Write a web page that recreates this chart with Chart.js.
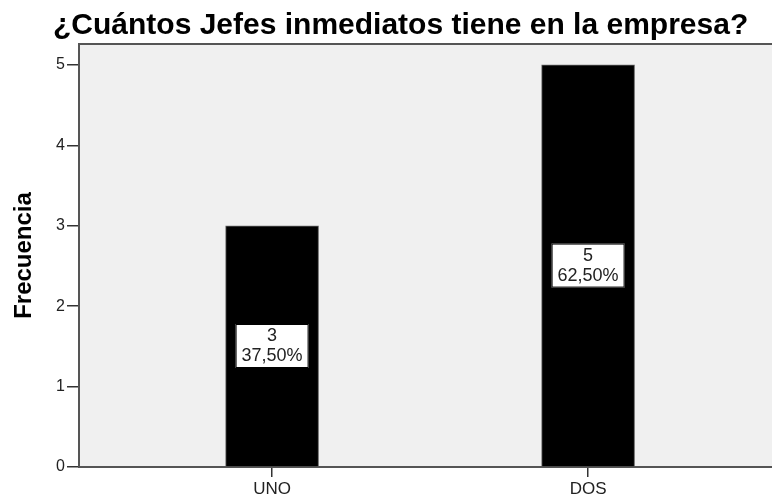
<!DOCTYPE html>
<html lang="es">
<head>
<meta charset="UTF-8">
<title>¿Cuántos Jefes inmediatos tiene en la empresa?</title>
<script src="https://cdn.jsdelivr.net/npm/chart.js"></script>
<style>
  body { margin: 0; background: #fff; overflow: hidden; }
  #wrap { width: 772px; height: 499px; }
</style>
</head>
<body>
<div id="wrap"><canvas id="chart" width="772" height="499"></canvas></div>
<script>
// data
const categories = ['UNO', 'DOS'];
const frequencies = [3, 5];
const percentLabels = ['37,50%', '62,50%'];
const yTicks = [0, 1, 2, 3, 4, 5];
const chartTitle = '¿Cuántos Jefes inmediatos tiene en la empresa?';

const FONT = "'Liberation Sans', Arial, sans-serif";

// grey plot box behind the bars
const plotBox = {
    id: 'plotBox',
    beforeDraw(chart) {
        const { ctx, chartArea: a } = chart;
        ctx.save();
        ctx.fillStyle = '#f0f0f0';
        ctx.fillRect(a.left, a.top, a.right - a.left, a.bottom - a.top);
        ctx.strokeStyle = '#555';
        ctx.lineWidth = 2;
        ctx.beginPath();
        ctx.moveTo(a.left, a.top);
        ctx.lineTo(a.right, a.top);
        ctx.stroke();
        ctx.restore();
    }
};

// white boxes with count and percentage in the middle of each bar
const barLabels = {
    id: 'barLabels',
    afterDatasetsDraw(chart) {
        const { ctx } = chart;
        const meta = chart.getDatasetMeta(0);
        ctx.save();
        ctx.font = '18px ' + FONT;
        ctx.textAlign = 'center';
        ctx.textBaseline = 'middle';
        meta.data.forEach((bar, i) => {
            const mid = (bar.y + bar.base) / 2;
            const w = 73, h = 44;
            ctx.fillStyle = '#fff';
            ctx.fillRect(bar.x - w / 2, mid - h / 2, w, h);
            ctx.strokeStyle = '#000';
            ctx.lineWidth = 1;
            ctx.strokeRect(bar.x - w / 2 + 0.5, mid - h / 2 + 0.5, w - 1, h - 1);
            ctx.fillStyle = '#222';
            ctx.fillText(String(frequencies[i]), bar.x, mid - 10);
            ctx.fillText(percentLabels[i], bar.x, mid + 10);
        });
        ctx.restore();
    }
};

const titleText = {
    id: 'titleText',
    afterDraw(chart) {
        const { ctx } = chart;
        ctx.save();
        ctx.font = 'bold 30px ' + FONT;
        ctx.fillStyle = '#000';
        ctx.textAlign = 'left';
        ctx.textBaseline = 'alphabetic';
        ctx.fillText(chartTitle, 53, 34);
        ctx.restore();
    }
};

new Chart(document.getElementById('chart').getContext('2d'), {
    type: 'bar',
    data: {
        datasets: [{
            label: 'Frecuencia',
            data: categories.map((c, i) => ({ x: i, y: frequencies[i] })),
            backgroundColor: '#000',
            borderColor: '#666',
            borderWidth: 1,
            barThickness: 93
        }]
    },
    options: {
        responsive: false,
        animation: false,
        devicePixelRatio: 1,
        layout: { padding: { top: 44, left: 0, right: 0, bottom: 0 } },
        plugins: {
            legend: { display: false },
            tooltip: { enabled: false }
        },
        scales: {
            x: {
                type: 'linear',
                offset: false,
                min: -0.611,
                max: 1.582,
                afterBuildTicks(axis) {
                    axis.ticks = categories.map((c, i) => ({ value: i }));
                },
                afterFit(axis) { axis.height = 32; },
                ticks: {
                    callback: v => categories[v],
                    font: { family: FONT, size: 17 },
                    color: '#222',
                    padding: 2,
                    maxRotation: 0
                },
                grid: { offset: false, drawOnChartArea: false, tickLength: 10, color: '#333', lineWidth: 1.5 },
                border: { color: '#555', width: 2 }
            },
            y: {
                min: 0,
                max: 5.26,
                afterBuildTicks(axis) {
                    axis.ticks = yTicks.map(v => ({ value: v }));
                },
                afterFit(axis) { axis.width = 79; },
                ticks: {
                    font: { family: FONT, size: 16 },
                    color: '#222',
                    padding: 2
                },
                grid: { drawOnChartArea: false, tickLength: 12, color: '#333', lineWidth: 1.5 },
                border: { color: '#555', width: 2 },
                title: {
                    display: true,
                    text: 'Frecuencia',
                    font: { family: FONT, size: 24, weight: 'bold' },
                    color: '#000',
                    padding: { top: 10, bottom: 0 }
                }
            }
        }
    },
    plugins: [plotBox, barLabels, titleText]
});
</script>
</body>
</html>
